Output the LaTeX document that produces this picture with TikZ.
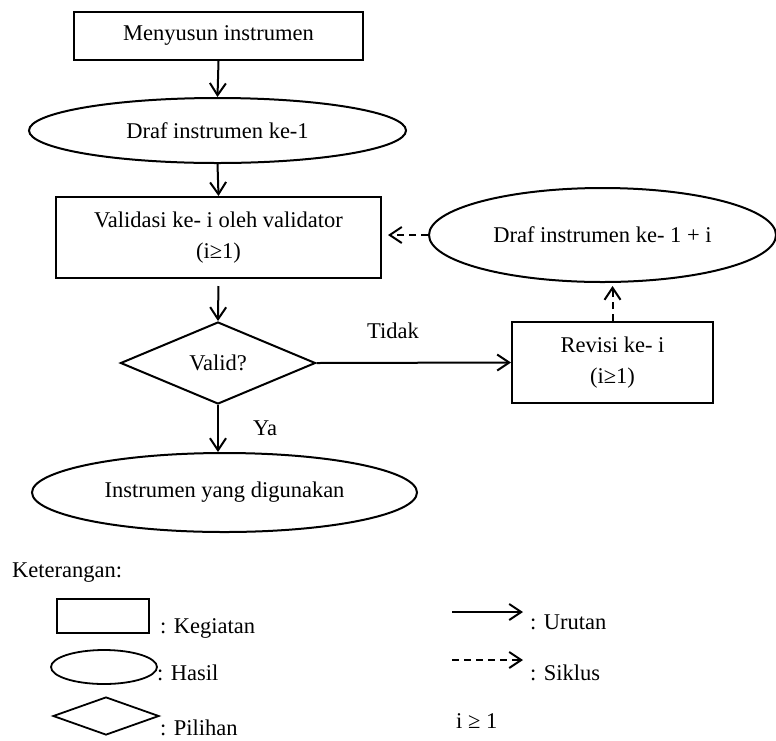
\documentclass[tikz,border=0pt]{standalone}
\usepackage{fontspec}
\setmainfont{Liberation Serif}
\usetikzlibrary{shapes.geometric,arrows.meta}

\tikzset{
  every node/.style={font=\fontsize{22.5}{31}\selectfont},
  kegiatan/.style={draw, rectangle, line width=2pt, inner sep=0pt, align=center},
  hasil/.style={draw, ellipse, line width=2pt, inner sep=0pt, align=center},
  pilihan/.style={draw, diamond, line width=2pt, inner sep=0pt, aspect=2.4},
  urutan/.style={line width=2pt, -{Straight Barb[length=12pt,width=16pt,line width=2pt]}},
  siklus/.style={urutan, dash pattern=on 7pt off 5pt},
  lbl/.style={anchor=base west, inner sep=0pt},
}

\begin{document}
\begin{tikzpicture}[x=1pt, y=-1pt]
  \useasboundingbox (0,0) rectangle (776,740);

  % main flow
  \node[kegiatan, minimum width=289pt, minimum height=48.5pt] (susun) at (218.5,35.8) {Menyusun instrumen};
  \node[hasil, minimum width=377pt, minimum height=65pt] (draf1) at (217.5,130.5) {Draf instrumen ke-1};
  \node[kegiatan, minimum width=325pt, minimum height=81pt] (valid) at (218.5,237.5)
       {Validasi ke- i oleh validator\\(i≥1)};
  \node[pilihan, minimum width=195pt, minimum height=82pt] (cek) at (218,363) {Valid?};
  \node[hasil, minimum width=385pt, minimum height=79pt] (akhir) at (224.5,492.5) {Instrumen yang digunakan};

  % revision loop
  \node[kegiatan, minimum width=201pt, minimum height=81pt] (revisi) at (612.5,362.5)
       {Revisi ke- i\\(i≥1)};
  \node[hasil, minimum width=347pt, minimum height=94pt] (drafi) at (602.5,235) {Draf instrumen ke- 1 + i};

  \draw[urutan] (susun.south) -- (draf1.north);
  \draw[urutan] (draf1.south) -- (valid.north);
  \draw[urutan, shorten <=7pt] (valid.south) -- (cek.north);
  \draw[urutan] (cek.south) -- (cek.south |- akhir.north);
  \draw[urutan] (cek.east) -- (revisi.west);
  \draw[siklus, shorten >=3pt] (revisi.north) -- (revisi.north |- drafi.south);
  \draw[siklus, shorten >=6pt] (drafi.west) -- (drafi.west -| valid.east);

  \node[lbl] (tidak) at (367,338) {Tidak};
  \node[lbl] (ya) at (253,435) {Ya};

  % legend
  \node[lbl] (ket) at (12,577) {Keterangan:};

  \node[draw, rectangle, line width=1.6pt, minimum width=92pt, minimum height=34pt, inner sep=0pt] (lgkeg) at (103,616) {};
  \node[draw, ellipse, line width=1.8pt, minimum width=106pt, minimum height=34pt, inner sep=0pt] (lghas) at (104,667) {};
  \node[draw, diamond, line width=1.8pt, minimum width=106pt, minimum height=38pt, inner sep=0pt, aspect=2.8] (lgpil) at (106,716) {};
  \node[lbl] (tkeg) at (160,633) {: Kegiatan};
  \node[lbl] (thas) at (157,680) {: Hasil};
  \node[lbl] (tpil) at (160,735) {: Pilihan};

  \coordinate (ua) at (452,612);
  \coordinate (ub) at (523,612);
  \coordinate (sa) at (452,660);
  \coordinate (sb) at (523,660);
  \draw[urutan, line width=1.8pt] (ua) -- (ub);
  \draw[siklus, line width=1.8pt] (sa) -- (sb);
  \node[lbl] (turut) at (530,629) {: Urutan};
  \node[lbl] (tsik) at (530,680) {: Siklus};
  \node[lbl] (tidx) at (456,728) {i ≥ 1};
\end{tikzpicture}
\end{document}
